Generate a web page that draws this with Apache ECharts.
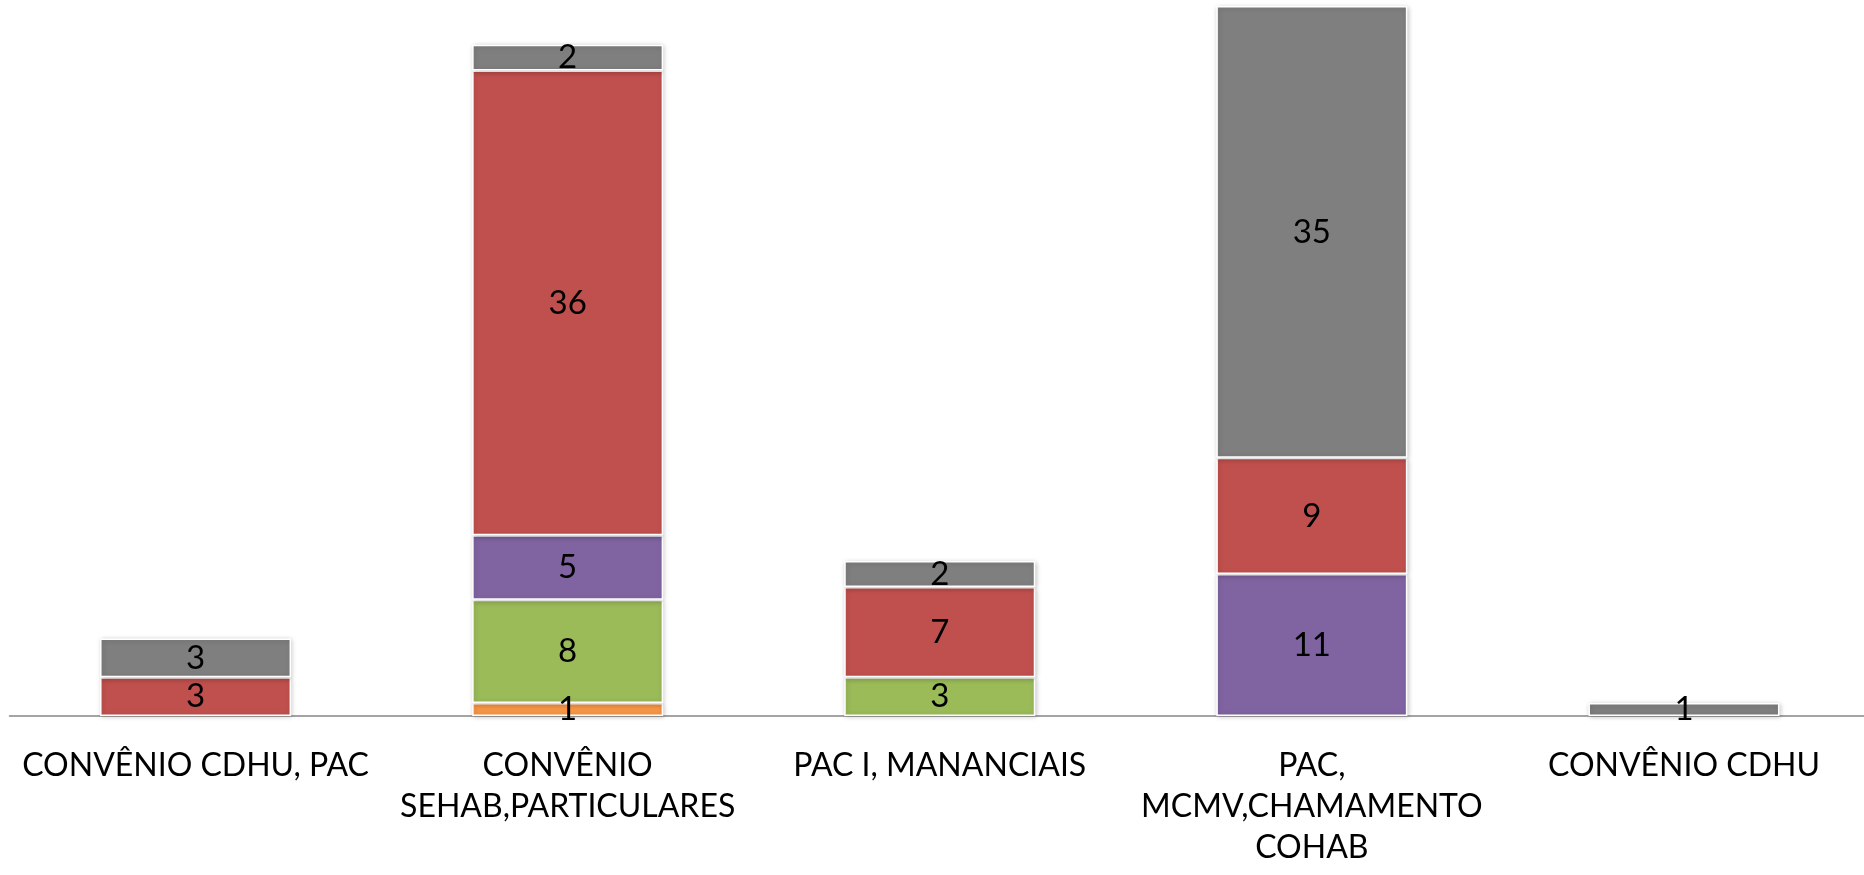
<!DOCTYPE html>
<html>
<head>
<meta charset="utf-8">
<script src="https://cdn.jsdelivr.net/npm/echarts@6/dist/echarts.min.js"></script>
<style>
html,body{margin:0;padding:0;background:#fff;overflow:hidden;}
#c{width:1872px;height:875px;}
</style>
</head>
<body>
<div id="c"></div>
<script>
const categories = ["CONVÊNIO CDHU, PAC", "CONVÊNIO\nSEHAB,PARTICULARES", "PAC I, MANANCIAIS", "PAC,\nMCMV,CHAMAMENTO\nCOHAB", "CONVÊNIO CDHU"];
const seriesOrange = [null, 1, null, null, null];
const seriesGreen  = [null, 8, 3, null, null];
const seriesPurple = [null, 5, null, 11, null];
const seriesRed    = [3, 36, 7, 9, null];
const seriesGray   = [3, 2, 2, 35, 1];

const colors = ['#F79646', '#9BBB59', '#8064A2', '#C0504D', '#7F7F7F'];
const dataList = [seriesOrange, seriesGreen, seriesPurple, seriesRed, seriesGray];

const chart = echarts.init(document.getElementById('c'));
chart.setOption({
  animation: false,
  grid: { left: 9.5, width: 1860.5, top: 6, bottom: 159, containLabel: false },
  xAxis: {
    type: 'category',
    data: categories,
    axisLine: { lineStyle: { color: '#868686', width: 1.5 } },
    axisTick: { show: false },
    axisLabel: {
      color: '#000', fontFamily: 'Lato', fontSize: 32, lineHeight: 41,
      margin: 29, interval: 0
    }
  },
  yAxis: { type: 'value', min: 0, max: 55, show: false, splitLine: { show: false } },
  series: dataList.map((d, i) => ({
    type: 'bar',
    stack: 'total',
    data: d,
    barWidth: 191,
    itemStyle: {
      color: colors[i], borderColor: '#fff', borderWidth: 1.5,
      shadowColor: 'rgba(0,0,0,0.22)', shadowBlur: 5, shadowOffsetX: 1, shadowOffsetY: 1
    },
    label: {
      show: true, position: 'inside', color: '#000',
      fontFamily: 'Lato', fontSize: 33
    }
  }))
});
</script>
</body>
</html>
